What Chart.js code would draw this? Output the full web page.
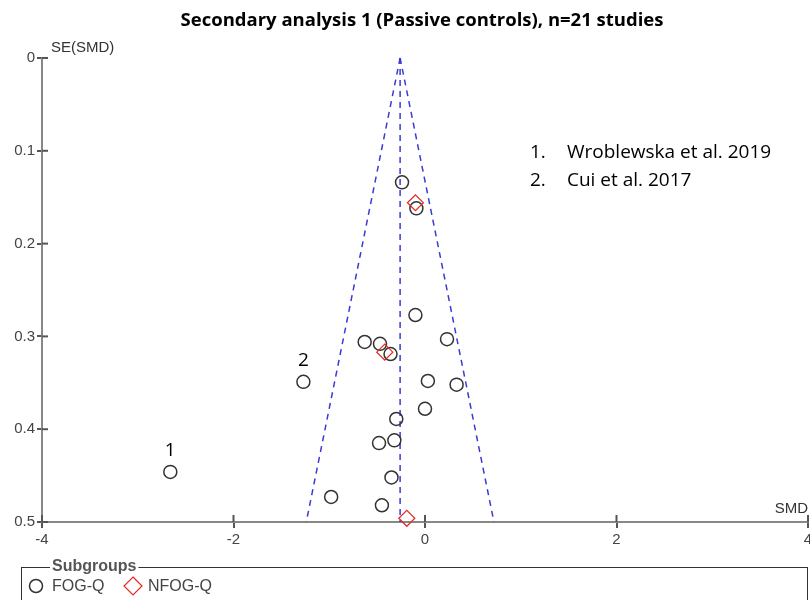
<!DOCTYPE html>
<html>
<head>
<meta charset="utf-8">
<script src="https://cdn.jsdelivr.net/npm/chart.js@4/dist/chart.umd.min.js"></script>
<style>
  html, body { margin: 0; padding: 0; background: #fff; }
  canvas { display: block; }
</style>
</head>
<body>
<canvas id="funnel" width="810" height="600"></canvas>
<script>
// --- data ---
const fogqSMD = [-0.24, -0.09, -0.10, -0.63, -0.47, -0.36, 0.23, -1.27, 0.03, 0.33, 0.00, -0.30, -0.48, -0.32, -0.35, -0.98, -0.45, -2.66];
const fogqSE  = [0.134, 0.162, 0.277, 0.306, 0.308, 0.319, 0.303, 0.349, 0.348, 0.352, 0.378, 0.389, 0.415, 0.412, 0.452, 0.473, 0.482, 0.446];
const nfogqSMD = [-0.10, -0.42, -0.19];
const nfogqSE  = [0.156, 0.317, 0.496];

// funnel: pooled estimate and 95% limits at SE = 0 and SE = 0.5
const funnelSE    = [0, 0.5];
const funnelMid   = [-0.26, -0.26];
const funnelLeft  = [-0.26, -1.24];
const funnelRight = [-0.26, 0.72];

const xTicks = [-4, -2, 0, 2, 4];
const yTicks = [0, 0.1, 0.2, 0.3, 0.4, 0.5];

// numbered outliers: number, index in the FOG-Q series, study name
const noteNumbers = ['1', '2'];
const noteIndex   = [17, 7];
const noteStudies = ['Wroblewska et al. 2019', 'Cui et al. 2017'];

const chartTitle = 'Secondary analysis 1 (Passive controls), n=21 studies';

const toPoints = (xs, ys) => xs.map((v, i) => ({ x: v, y: ys[i] }));

const axisFont = { family: "'Liberation Sans', Arial, sans-serif", size: 15 };
const textFamily = "'Open Sans', Lato, sans-serif";
const axisColor = '#444';
const funnelBlue = '#3a3ad6';

const extras = {
    id: 'funnelExtras',
    afterDraw(chart) {
        const { ctx, chartArea: area, scales: { x, y } } = chart;
        ctx.save();

        // title (sits a little right of the canvas centre in the original)
        ctx.fillStyle = '#000';
        ctx.font = `bold 18.5px ${textFamily}`;
        ctx.textAlign = 'center';
        ctx.textBaseline = 'middle';
        ctx.fillText(chartTitle, 422, 21);

        // tick marks on the inner side of the axes
        ctx.strokeStyle = '#555';
        ctx.lineWidth = 2;
        xTicks.forEach(v => {
            const px = x.getPixelForValue(v);
            ctx.beginPath(); ctx.moveTo(px, area.bottom); ctx.lineTo(px, area.bottom - 7); ctx.stroke();
        });
        yTicks.forEach(v => {
            const py = y.getPixelForValue(v);
            ctx.beginPath(); ctx.moveTo(area.left, py); ctx.lineTo(area.left + 6, py); ctx.stroke();
        });

        // axis titles
        ctx.fillStyle = '#333';
        ctx.font = `15px ${axisFont.family}`;
        ctx.textAlign = 'left';
        ctx.fillText('SE(SMD)', area.left + 9, area.top - 10);
        ctx.textAlign = 'right';
        ctx.fillText('SMD', area.right, area.bottom - 13);

        // outlier numbers above their points
        ctx.fillStyle = '#000';
        ctx.font = `19px ${textFamily}`;
        ctx.textAlign = 'center';
        noteIndex.forEach((idx, i) => {
            const px = x.getPixelForValue(fogqSMD[idx]);
            const py = y.getPixelForValue(fogqSE[idx]);
            ctx.fillText(noteNumbers[i], px, py - 21);
        });

        // study list
        ctx.textAlign = 'left';
        noteStudies.forEach((name, i) => {
            const py = 153 + i * 28;
            ctx.fillText(noteNumbers[i] + '.', 530, py);
            ctx.fillText(name, 567, py);
        });

        // subgroup legend box
        const boxTop = 567;
        ctx.strokeStyle = '#333';
        ctx.lineWidth = 1;
        ctx.strokeRect(21.5, boxTop + 0.5, 786, 60);
        ctx.font = `bold 16px ${axisFont.family}`;
        const headW = ctx.measureText('Subgroups').width;
        ctx.fillStyle = '#fff';
        ctx.fillRect(50, boxTop - 4, headW + 4, 8);
        ctx.fillStyle = '#555';
        ctx.fillText('Subgroups', 52, boxTop);

        const rowY = 586;
        const ds = chart.data.datasets;
        // circle marker
        ctx.strokeStyle = ds[0].borderColor;
        ctx.lineWidth = 1.5;
        ctx.beginPath(); ctx.arc(36, rowY, 6.5, 0, Math.PI * 2); ctx.stroke();
        ctx.fillStyle = '#444';
        ctx.font = `16px ${axisFont.family}`;
        ctx.fillText(ds[0].label, 52, rowY + 1);
        // diamond marker
        ctx.strokeStyle = ds[1].borderColor;
        ctx.lineWidth = 1.2;
        ctx.beginPath();
        ctx.moveTo(133, rowY - 9); ctx.lineTo(142, rowY); ctx.lineTo(133, rowY + 9); ctx.lineTo(124, rowY);
        ctx.closePath(); ctx.stroke();
        ctx.fillText(ds[1].label, 148, rowY + 1);

        ctx.restore();
    }
};

const funnelLine = (xs) => ({
    type: 'line',
    data: toPoints(xs, funnelSE),
    borderColor: funnelBlue,
    borderWidth: 1.5,
    borderDash: [6, 5],
    pointRadius: 0,
    showLine: true,
    fill: false,
    clip: false,
    order: 2
});

new Chart(document.getElementById('funnel'), {
    type: 'scatter',
    data: {
        datasets: [
            {
                label: 'FOG-Q',
                data: toPoints(fogqSMD, fogqSE),
                pointStyle: 'circle',
                pointRadius: 6.5,
                borderColor: '#333',
                backgroundColor: 'rgba(0,0,0,0)',
                borderWidth: 1.5,
                clip: false,
                order: 1
            },
            {
                label: 'NFOG-Q',
                data: toPoints(nfogqSMD, nfogqSE),
                pointStyle: 'rectRot',
                pointRadius: 8,
                borderColor: '#e02a22',
                backgroundColor: 'rgba(0,0,0,0)',
                borderWidth: 1.2,
                clip: false,
                order: 0
            },
            funnelLine(funnelMid),
            funnelLine(funnelLeft),
            funnelLine(funnelRight)
        ]
    },
    options: {
        responsive: false,
        animation: false,
        layout: { autoPadding: false, padding: { top: 58, right: 2 } },
        plugins: {
            legend: { display: false },
            tooltip: { enabled: false },
            title: { display: false }
        },
        scales: {
            x: {
                type: 'linear',
                min: -4, max: 4,
                afterBuildTicks: scale => { scale.ticks = xTicks.map(v => ({ value: v })); },
                afterFit: scale => { scale.height = 78; scale.paddingLeft = 0; scale.paddingRight = 0; },
                ticks: { color: axisColor, font: axisFont, padding: 3, maxRotation: 0 },
                grid: { drawOnChartArea: false, drawTicks: true, tickLength: 6, color: '#555', lineWidth: 2 },
                border: { color: '#888', width: 2 }
            },
            y: {
                type: 'linear',
                reverse: true,
                min: 0, max: 0.5,
                afterBuildTicks: scale => { scale.ticks = yTicks.map(v => ({ value: v })); },
                afterFit: scale => { scale.width = 42; scale.paddingTop = 0; scale.paddingBottom = 0; },
                ticks: { color: axisColor, font: axisFont, padding: 2, callback: v => String(+v.toFixed(1)) },
                grid: { drawOnChartArea: false, drawTicks: true, tickLength: 5, color: '#555', lineWidth: 2 },
                border: { color: '#888', width: 2 }
            }
        }
    },
    plugins: [extras]
});
</script>
</body>
</html>
